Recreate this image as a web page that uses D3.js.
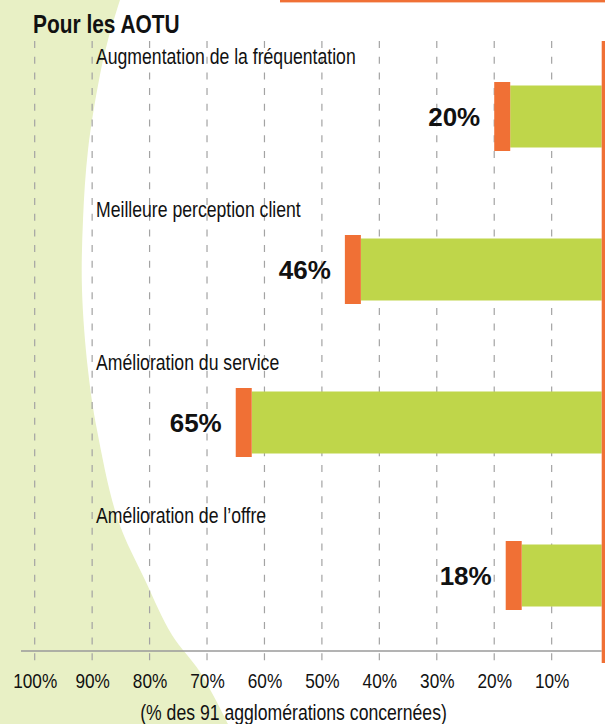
<!DOCTYPE html>
<html lang="fr">
<head>
    <meta charset="UTF-8">
    <title>Pour les AOTU</title>
    <script src="https://d3js.org/d3.v7.min.js"></script>
    <style>
        html, body { margin: 0; padding: 0; background: #fff; }
        svg { display: block; }
        .narrow { font-family: "Liberation Sans", Arial, sans-serif; fill: #111; }
        .value { font-family: "Liberation Sans", Arial, sans-serif; font-weight: bold; fill: #111; }
    </style>
</head>
<body>
<svg id="chart" width="605" height="724"></svg>

<script>
    const width = 605;
    const height = 724;

    // data
    const categories = [
        "Augmentation de la fréquentation",
        "Meilleure perception client",
        "Amélioration du service",
        "Amélioration de l\u2019offre"
    ];
    const values = [20, 46, 65, 18];
    const tickValues = [100, 90, 80, 70, 60, 50, 40, 30, 20, 10];

    const orange = "#f07035";
    const green = "#bfd64a";
    const pale = "#e8f0c5";
    const squeeze = "scale(0.82,1)"; // fake a condensed face

    const svg = d3.select("#chart");

    // reversed percentage scale, 0% sits just right of the orange line
    const x = d3.scaleLinear().domain([0, 100]).range([609.1, 34.7]);
    const y = d3.scaleBand().domain(categories).range([40, 652]);
    const baseX = 601.7;

    // pale green swoosh on the left
    const swoosh = [[120, 0], [108, 40], [99, 80], [88, 150], [83, 220], [82, 290], [88, 370], [97, 430],
                    [118, 520], [145, 580], [172, 635], [200, 672], [228, 724]];
    const line = d3.line().curve(d3.curveCatmullRom);
    svg.append("path")
        .attr("d", line(swoosh) + "L0,724L0,0Z")
        .attr("fill", pale);

    // top orange rule
    svg.append("rect").attr("x", 280).attr("y", 0).attr("width", width - 280).attr("height", 2.4).attr("fill", orange);

    // dashed gridlines
    svg.append("g").selectAll("line")
        .data(tickValues)
        .join("line")
        .attr("x1", d => x(d)).attr("x2", d => x(d))
        .attr("y1", 41).attr("y2", 665)
        .attr("stroke", "#a3a3a3")
        .attr("stroke-width", 1.2)
        .attr("stroke-dasharray", "7,8.7");

    // horizontal axis line
    svg.append("line")
        .attr("x1", 21).attr("x2", baseX)
        .attr("y1", 651).attr("y2", 651)
        .attr("stroke", "#9a9a9a").attr("stroke-width", 1.4);

    // tick labels
    const axis = d3.axisBottom(x).tickValues(tickValues).tickFormat(d => d + "%").tickSize(0).tickPadding(0);
    const gAxis = svg.append("g").attr("transform", "translate(0,688)").call(axis);
    gAxis.select(".domain").remove();
    gAxis.selectAll("text")
        .attr("class", "narrow")
        .attr("dy", 0)
        .attr("transform", squeeze)
        .style("font-size", "21px")
        .attr("fill", "#111");

    // bars
    const bars = svg.append("g").selectAll("g")
        .data(values)
        .join("g")
        .attr("transform", (d, i) => `translate(0,${y(categories[i]) + y.bandwidth() / 2})`);

    bars.append("rect")
        .attr("x", d => x(d) + 16)
        .attr("y", -31)
        .attr("width", d => baseX - x(d) - 16)
        .attr("height", 62)
        .attr("fill", green);

    bars.append("rect")
        .attr("x", d => x(d))
        .attr("y", -34.5)
        .attr("width", 16)
        .attr("height", 69)
        .attr("fill", orange);

    bars.append("text")
        .attr("class", "value")
        .attr("x", d => x(d) - 14)
        .attr("y", 9)
        .attr("text-anchor", "end")
        .style("font-size", "26px")
        .text(d => d + "%");

    bars.append("text")
        .attr("class", "narrow")
        .attr("transform", `translate(96,-52.5) ${squeeze}`)
        .style("font-size", "21.5px")
        .text((d, i) => categories[i]);

    // right orange rule
    svg.append("rect").attr("x", baseX).attr("y", 41).attr("width", 3.3).attr("height", 622).attr("fill", orange);

    // title and footnote
    svg.append("text")
        .attr("class", "narrow")
        .attr("transform", `translate(33,33) ${squeeze}`)
        .style("font-size", "25.5px").style("font-weight", "bold")
        .text("Pour les AOTU");

    svg.append("text")
        .attr("class", "narrow")
        .attr("transform", `translate(293.5,720) ${squeeze}`)
        .attr("text-anchor", "middle")
        .style("font-size", "21.5px")
        .text("(% des 91 agglomérations concernées)");
</script>
</body>
</html>
